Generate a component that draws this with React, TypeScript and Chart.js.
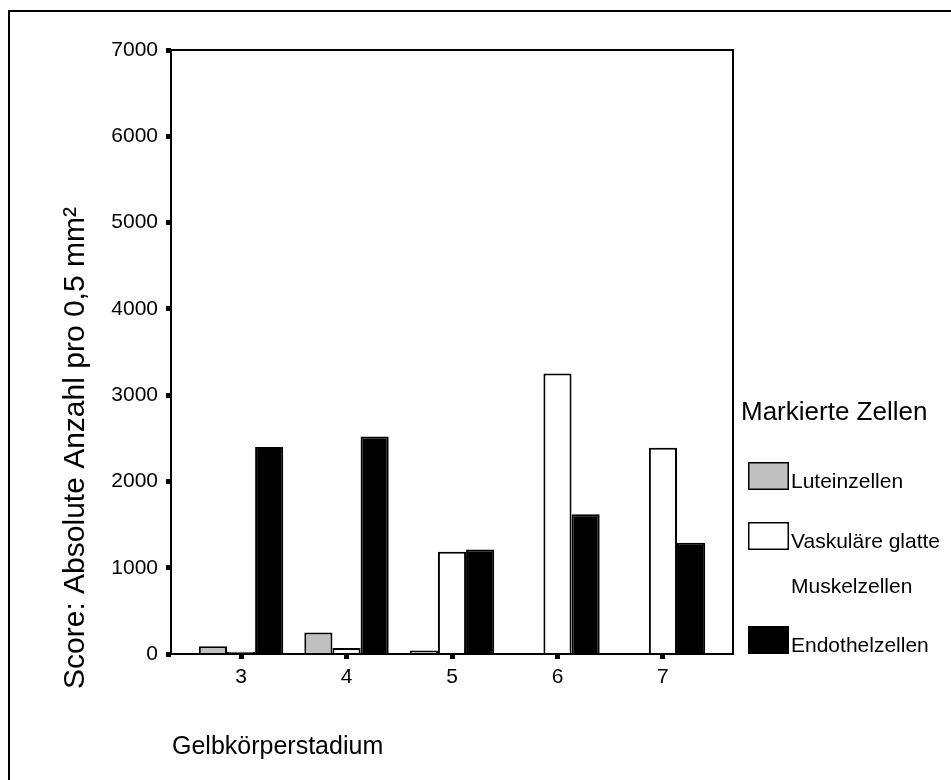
import { useEffect, useRef } from 'react';
import { Chart, registerables } from 'chart.js';

Chart.register(...registerables);

const stages = [3, 4, 5, 6, 7];
const seriesNames = ['Luteinzellen', 'Vaskuläre glatte Muskelzellen', 'Endothelzellen'];
const seriesColors = ['#c0c0c0', '#ffffff', '#000000'];
const luteinzellen = [90, 250, 40, 0, 0];
const vaskulaereMuskelzellen = [25, 70, 1185, 3250, 2390];
const endothelzellen = [2400, 2520, 1210, 1620, 1290];
const yTickValues = [0, 1000, 2000, 3000, 4000, 5000, 6000, 7000];
const xTitle = 'Gelbkörperstadium';
const yTitle = 'Score: Absolute Anzahl pro 0,5 mm²';
const legendTitle = 'Markierte Zellen';

const FONT = '"Liberation Sans", Arial, Helvetica, sans-serif';

const decorPlugin = {
  id: 'decor',
  afterDraw(chart: any) {
    const { ctx, chartArea } = chart;
    ctx.save();
    ctx.strokeStyle = '#000';
    ctx.lineWidth = 2;
    // outer (clipped) frame
    ctx.beginPath();
    ctx.moveTo(9, 780);
    ctx.lineTo(9, 11);
    ctx.lineTo(951, 11);
    ctx.stroke();
    // plot frame
    ctx.strokeRect(chartArea.left, chartArea.top, chartArea.right - chartArea.left, chartArea.bottom - chartArea.top);

    ctx.fillStyle = '#000';
    // x title
    ctx.font = `25px ${FONT}`;
    ctx.textAlign = 'left';
    ctx.textBaseline = 'alphabetic';
    ctx.fillText(xTitle, chartArea.left + 1, 754);

    // y title
    ctx.save();
    ctx.translate(84, 448);
    ctx.rotate(-Math.PI / 2);
    ctx.font = `30px ${FONT}`;
    ctx.textAlign = 'center';
    ctx.textBaseline = 'alphabetic';
    ctx.fillText(yTitle, 0, 0);
    ctx.restore();

    // legend
    ctx.font = `26px ${FONT}`;
    ctx.textAlign = 'left';
    ctx.fillText(legendTitle, 741, 420);

    const boxX = 748, boxW = 41, boxH = 28, textX = 791, maxW = 162;
    let boxTop = 462;
    ctx.font = `21px ${FONT}`;
    chart.data.datasets.forEach((ds: any) => {
      ctx.fillStyle = ds.backgroundColor;
      ctx.fillRect(boxX, boxTop, boxW, boxH);
      ctx.lineWidth = 1.5;
      ctx.strokeStyle = '#000';
      ctx.strokeRect(boxX + 0.75, boxTop + 0.75, boxW - 1.5, boxH - 1.5);
      const words = String(ds.label).split(' ');
      const lines: string[] = [];
      let cur = '';
      words.forEach((w) => {
        const t = cur ? cur + ' ' + w : w;
        if (cur && ctx.measureText(t).width > maxW) {
          lines.push(cur);
          cur = w;
        } else cur = t;
      });
      if (cur) lines.push(cur);
      ctx.fillStyle = '#000';
      lines.forEach((ln, i) => ctx.fillText(ln, textX, boxTop + 26 + i * 45));
      boxTop += 60 + (lines.length - 1) * 44;
    });
    ctx.restore();
  },
};

export default function App() {
  const ref = useRef<HTMLCanvasElement | null>(null);
  useEffect(() => {
    if (!ref.current) return;
    const seriesValues = [luteinzellen, vaskulaereMuskelzellen, endothelzellen];
    const chart = new Chart(ref.current, {
      type: 'bar',
      data: {
        datasets: seriesNames.map((name, i) => ({
          label: name,
          data: stages.map((s, j) => ({ x: s, y: seriesValues[i][j] })),
          backgroundColor: seriesColors[i],
          borderColor: '#000',
          borderWidth: 2,
          categoryPercentage: 0.8,
          barPercentage: 1,
        })),
      },
      options: {
        animation: false,
        responsive: false,
        events: [],
        layout: { padding: { top: 50, right: 218, left: 0, bottom: 0 } },
        plugins: { legend: { display: false }, tooltip: { enabled: false }, title: { display: false } },
        scales: {
          x: {
            type: 'linear',
            offset: false,
            min: 2.336,
            max: 7.664,
            afterBuildTicks: (s: any) => {
              s.ticks = stages.map((v) => ({ value: v }));
            },
            afterFit: (s: any) => {
              s.height = 126;
            },
            ticks: {
              callback: (v: any) => String(v),
              color: '#000',
              font: { family: FONT, size: 21 },
              padding: 6,
              maxRotation: 0,
              autoSkip: false,
            },
            grid: {
              display: true,
              offset: false,
              drawOnChartArea: false,
              drawTicks: true,
              tickLength: 5,
              tickWidth: 5,
              tickColor: '#000',
            },
            border: { display: false },
          },
          y: {
            min: 0,
            max: 7000,
            afterBuildTicks: (s: any) => {
              s.ticks = yTickValues.map((v) => ({ value: v }));
            },
            afterFit: (s: any) => {
              s.width = 171;
            },
            ticks: {
              callback: (v: any) => String(v),
              color: '#000',
              font: { family: FONT, size: 21 },
              padding: 8,
            },
            grid: {
              display: true,
              drawOnChartArea: false,
              drawTicks: true,
              tickLength: 5,
              tickWidth: 5,
              tickColor: '#000',
            },
            border: { display: false },
          },
        },
      },
      plugins: [decorPlugin],
    } as any);
    return () => chart.destroy();
  }, []);
  return (
    <div style={{ position: 'relative', width: 951, height: 780, background: '#fff' }}>
      <style>{`html,body{margin:0;padding:0;background:#fff;overflow:hidden}`}</style>
      <canvas ref={ref} width={951} height={780} style={{ display: 'block', width: 951, height: 780 }} />
    </div>
  );
}
